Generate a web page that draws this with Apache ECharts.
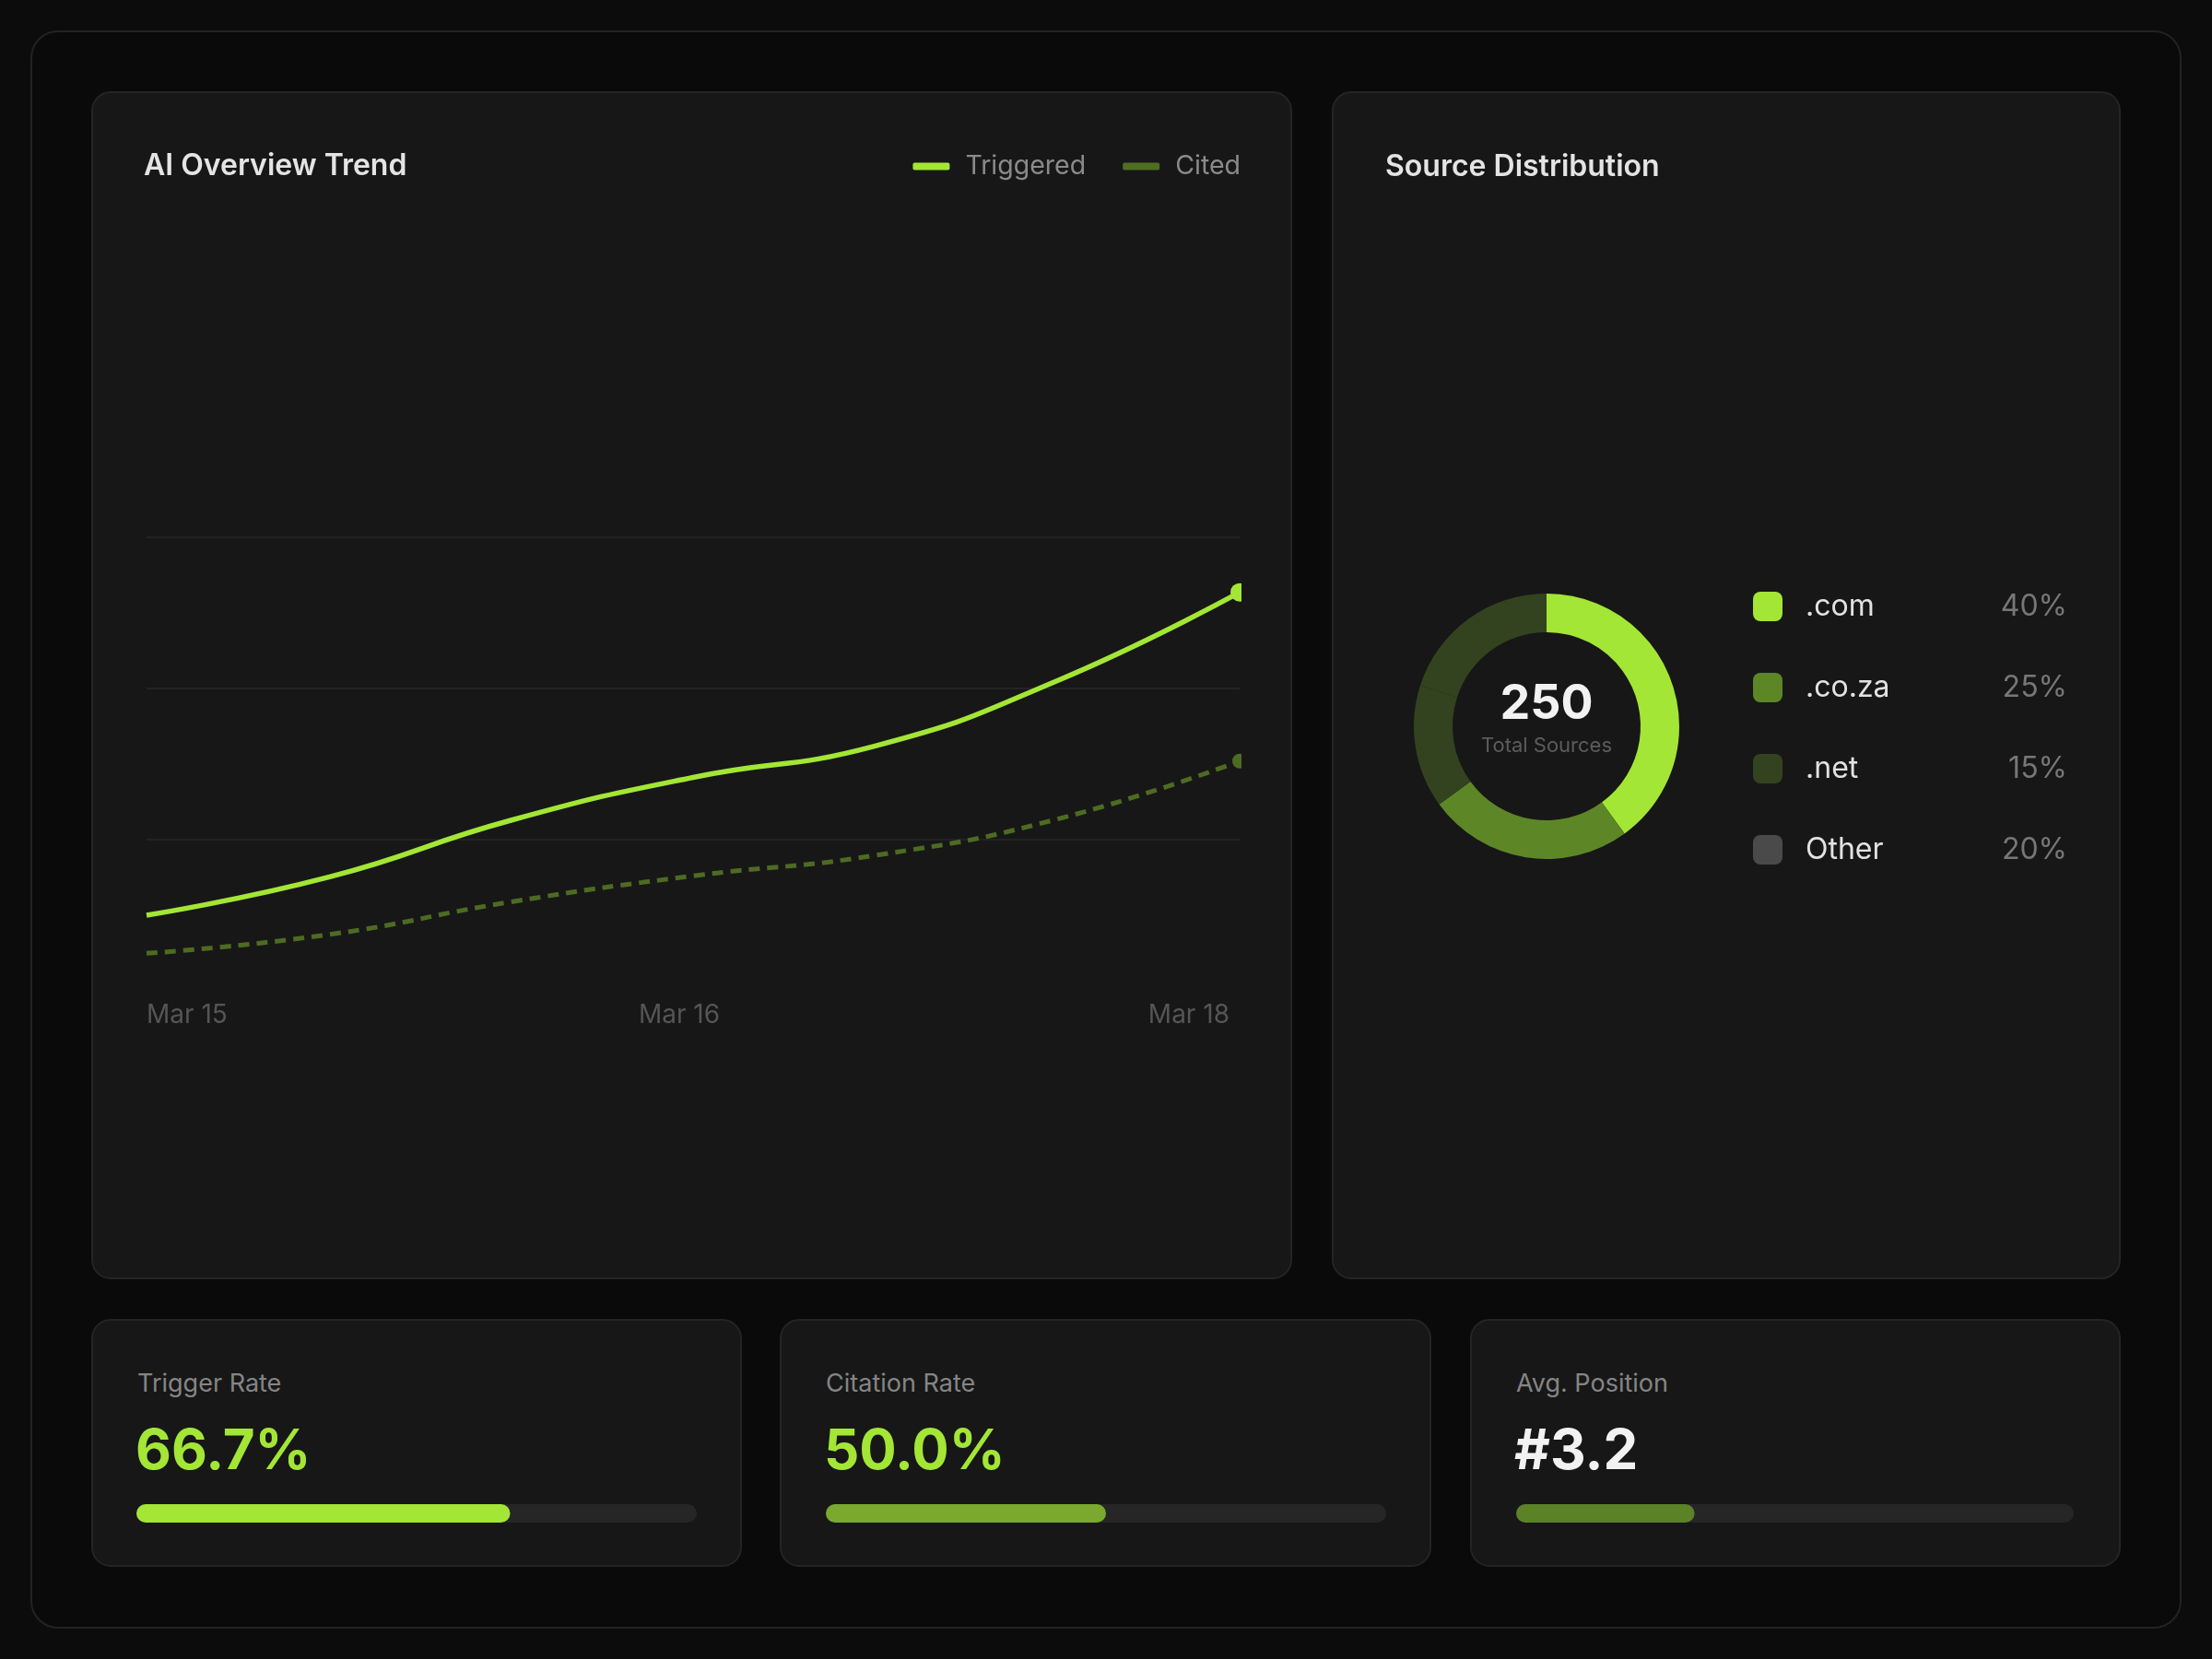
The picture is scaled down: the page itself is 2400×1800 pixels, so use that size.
<!DOCTYPE html>
<html>
<head>
<meta charset="utf-8">
<script src="https://cdn.jsdelivr.net/npm/echarts@6/dist/echarts.min.js"></script>
<style>
  html, body { margin:0; padding:0; background:#0c0c0c; width:2400px; height:1800px; overflow:hidden; font-family: Inter, "Noto Sans", sans-serif; }
  .frame { position:absolute; left:33px; top:33px; width:2330px; height:1730px; border:2px solid #232323; border-radius:30px; background:#0a0a0a; }
  .card { position:absolute; background:#171717; border:2px solid #242424; border-radius:21px; box-sizing:border-box; }
  .abs { position:absolute; }
  .kpi-label { position:absolute; font-size:27px; line-height:27px; color:#858585; white-space:nowrap; }
  .kpi-value { position:absolute; font-size:60px; line-height:60px; font-weight:700; white-space:nowrap; letter-spacing:0px; }
</style>
</head>
<body>
<div class="frame"></div>
<div class="card" style="left:99px;top:99px;width:1303px;height:1289px;"></div>
<div class="card" style="left:1445px;top:99px;width:856px;height:1289px;"></div>
<div class="card" style="left:99px;top:1431px;width:706px;height:269px;"></div>
<div class="card" style="left:846px;top:1431px;width:707px;height:269px;"></div>
<div class="card" style="left:1595px;top:1431px;width:706px;height:269px;"></div>

<div id="trend" class="abs" style="left:156px;top:140px;width:1191px;height:1000px;"></div>
<div id="donut" class="abs" style="left:1445px;top:99px;width:856px;height:1289px;"></div>
<div id="bars" class="abs" style="left:0px;top:1600px;width:2400px;height:80px;"></div>

<div id="kpis"></div>

<script>
// ---- data ----
var categories = [
  'Mar 15 00:00','Mar 15 12:00',
  'Mar 16 00:00','Mar 16 12:00',
  'Mar 17 00:00','Mar 17 12:00',
  'Mar 18 00:00'
];
var triggered = [12.5, 18.8, 28.2, 35.3, 40.5, 51.3, 65.9];
var cited     = [6.2, 9.3, 14.7, 19.0, 22.4, 28.4, 38.0];

var sourceNames  = ['.com', '.co.za', '.net', 'Other'];
var sourceShares = [40, 25, 15, 20];
var totalSources = 250;

var kpiLabels   = ['Trigger Rate', 'Citation Rate', 'Avg. Position'];
var kpiTexts    = ['66.7%', '50.0%', '#3.2'];
var kpiProgress = [66.7, 50.0, 32];

// ---- styles ----
var FONT = 'Inter, "Noto Sans", sans-serif';
var C_TRIG = '#a3e635';
var C_CITE = '#4d6b22';
var sourceColors = ['#a3e635', '#5d8727', '#334320', '#334320'];
var legendColors = ['#a3e635', '#5d8727', '#334320', '#4a4a4a'];
var kpiValueColors = ['#a3e635', '#a3e635', '#f2f2f2'];
var kpiBarColors = ['#a3e635', '#7aa92e', '#5b8227'];

// ---- trend chart ----
var trend = echarts.init(document.getElementById('trend'), null, {renderer:'canvas'});
function lastMarker(arr, size) {
  return arr.map(function (v, i) {
    return i === arr.length - 1 ? {value: v, symbol: 'circle', symbolSize: size} : {value: v, symbol: 'none'};
  });
}
var lastIdx = categories.length - 1;
trend.setOption({
  animation: false,
  textStyle: {fontFamily: FONT},
  title: {
    text: 'AI Overview Trend', left: 0, top: 24, padding: 0,
    textStyle: {fontSize: 32, fontWeight: 600, color: '#e4e4e4', fontFamily: FONT}
  },
  legend: {
    right: 1, top: 26, padding: 0, itemWidth: 40, itemHeight: 8, itemGap: 40,
    icon: 'roundRect',
    itemStyle: {borderWidth: 0},
    textStyle: {fontSize: 28.5, color: '#8a8a8a', fontFamily: FONT, padding: [0, 0, 0, 12]},
    data: [
      {name: 'Triggered', itemStyle: {color: C_TRIG}},
      {name: 'Cited', itemStyle: {color: '#4f6e23'}}
    ]
  },
  grid: {left: 0, right: 2, top: 279, height: 656, containLabel: false},
  xAxis: {
    type: 'category', data: categories, boundaryGap: false,
    axisLine: {show: false}, axisTick: {show: false},
    axisLabel: {
      interval: function (idx) { return idx % 3 === 0; },
      formatter: function (v, idx) {
        var t = v.slice(0, 6);
        if (idx === lastIdx) return '{r|' + t + '}';
        if (idx === 3) return '{m|' + t + '}';
        return t;
      },
      rich: {
        r: {fontSize: 28, color: '#555555', fontFamily: FONT, padding: [0, 11, 0, 0]},
        m: {fontSize: 28, color: '#555555', fontFamily: FONT, padding: [0, 30, 0, 0]}
      },
      color: '#555555', fontSize: 28, margin: 13, fontFamily: FONT,
      alignMinLabel: 'left', alignMaxLabel: 'right'
    },
    splitLine: {show: false}
  },
  yAxis: {
    type: 'value', min: 0, max: 100, interval: 25,
    axisLine: {show: false}, axisTick: {show: false}, axisLabel: {show: false},
    splitLine: {show: true, showMinLine: false, showMaxLine: false, lineStyle: {color: '#292929', width: 1.5}}
  },
  series: [
    {
      name: 'Triggered', type: 'line', data: lastMarker(triggered, 20),
      smooth: 0.5, showSymbol: true,
      lineStyle: {color: C_TRIG, width: 5.5},
      itemStyle: {color: C_TRIG},
      z: 3, silent: true
    },
    {
      name: 'Cited', type: 'line', data: lastMarker(cited, 16),
      smooth: 0.5, showSymbol: true,
      lineStyle: {color: C_CITE, width: 5, type: [12, 8]},
      itemStyle: {color: C_CITE},
      z: 2, silent: true
    }
  ]
});

// ---- donut chart ----
var donut = echarts.init(document.getElementById('donut'), null, {renderer:'canvas'});
var pieData = sourceNames.map(function (n, i) {
  return {name: n, value: sourceShares[i], itemStyle: {color: sourceColors[i]}};
});
var legendData = sourceNames.map(function (n, i) {
  return {name: n, itemStyle: {color: legendColors[i], borderWidth: 0}};
});
donut.setOption({
  animation: false,
  textStyle: {fontFamily: FONT},
  title: {
    text: 'Source Distribution', left: 58, top: 66, padding: 0,
    textStyle: {fontSize: 32, fontWeight: 600, color: '#e4e4e4', fontFamily: FONT}
  },
  legend: {
    orient: 'vertical', left: 457, top: 543, padding: 0,
    itemWidth: 32, itemHeight: 32, itemGap: 56, icon: 'roundRect',
    data: legendData,
    formatter: function (name) {
      var i = sourceNames.indexOf(name);
      return '{n|' + name + '}{p|' + sourceShares[i] + '%}';
    },
    textStyle: {
      fontFamily: FONT,
      rich: {
        n: {fontSize: 32, color: '#e2e2e2', width: 222, padding: [0, 0, 0, 20], fontFamily: FONT},
        p: {fontSize: 32, color: '#777777', width: 62, align: 'right', fontFamily: FONT}
      }
    }
  },
  graphic: [
    {type: 'text', x: 233, y: 665, silent: true,
     style: {text: String(totalSources), fill: '#f2f2f2', font: '700 52px ' + FONT, align: 'center', verticalAlign: 'middle'}},
    {type: 'text', x: 233, y: 710, silent: true,
     style: {text: 'Total Sources', fill: '#5c5c5c', font: '400 22px ' + FONT, align: 'center', verticalAlign: 'middle'}}
  ],
  series: [{
    type: 'pie', center: [233, 689], radius: [102, 144],
    startAngle: 90, clockwise: true, silent: true,
    label: {show: false}, labelLine: {show: false},
    itemStyle: {borderWidth: 0},
    data: pieData
  }]
});

// ---- KPI cards text ----
var cardLefts = [99, 846, 1595];
var kpiHtml = '';
for (var i = 0; i < kpiLabels.length; i++) {
  kpiHtml += '<div class="kpi-label" style="left:' + (cardLefts[i] + 50) + 'px;top:1487px;">' + kpiLabels[i] + '</div>';
  kpiHtml += '<div class="kpi-value" style="left:' + (cardLefts[i] + 48) + 'px;top:1542px;color:' + kpiValueColors[i] + ';">' + kpiTexts[i] + '</div>';
}
document.getElementById('kpis').innerHTML = kpiHtml;

// ---- progress bars ----
var bars = echarts.init(document.getElementById('bars'), null, {renderer:'canvas'});
var barLefts = [148, 896, 1645];
var barWidths = [608, 608, 605];
var grids = [], xAxes = [], yAxes = [], barSeries = [];
for (var k = 0; k < kpiProgress.length; k++) {
  grids.push({left: barLefts[k], width: barWidths[k], top: 32, height: 20, containLabel: false});
  xAxes.push({type: 'value', gridIndex: k, min: 0, max: 100, show: false});
  yAxes.push({type: 'category', gridIndex: k, data: [kpiLabels[k]], show: false});
  barSeries.push({
    type: 'bar', xAxisIndex: k, yAxisIndex: k, data: [kpiProgress[k]],
    barWidth: 20, silent: true,
    showBackground: true, backgroundStyle: {color: '#262626', borderRadius: 10},
    itemStyle: {color: kpiBarColors[k], borderRadius: 10}
  });
}
bars.setOption({animation: false, grid: grids, xAxis: xAxes, yAxis: yAxes, series: barSeries});
</script>
</body>
</html>
